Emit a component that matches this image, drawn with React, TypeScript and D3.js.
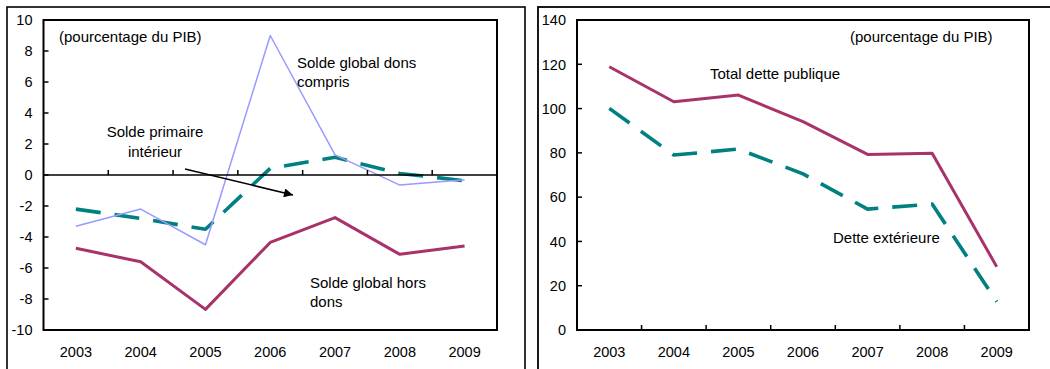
import React from "react";
import * as d3 from "d3";

const years = ["2003", "2004", "2005", "2006", "2007", "2008", "2009"];

// Left panel (pourcentage du PIB)
const soldeDonsCompris = [-3.3, -2.2, -4.5, 9.0, 1.3, -0.65, -0.3];
const soldePrimaireInterieur = [-2.2, -2.8, -3.5, 0.43, 1.14, 0.1, -0.37];
const soldeHorsDons = [-4.73, -5.6, -8.67, -4.35, -2.75, -5.12, -4.58];
const leftTicks = [-10, -8, -6, -4, -2, 0, 2, 4, 6, 8, 10];

// Right panel (pourcentage du PIB)
const totalDettePublique = [118.9, 103.1, 106.1, 94.1, 79.3, 79.8, 28.6];
const detteExterieure = [100.1, 79, 81.7, 70.5, 54.6, 56.9, 12.8];
const rightTicks = [0, 20, 40, 60, 80, 100, 120, 140];

const FONT = "'Liberation Sans', Arial, sans-serif";
const TEAL = "#008080";
const MAGENTA = "#A8336A";
const LAVENDER = "#9999FF";

type Series = { values: number[]; color: string; width: number; dash?: string };

function Panel(props: {
  left: number;
  right: number;
  domain: [number, number];
  ticks: number[];
  baseValue: number;
  series: Series[];
  children?: React.ReactNode;
}) {
  const top = 20;
  const bottom = 330;
  const x = d3.scaleBand<string>().domain(years).range([props.left, props.right]);
  const y = d3.scaleLinear().domain(props.domain).range([bottom, top]);
  const cx = (d: string) => (x(d) as number) + x.bandwidth() / 2;
  const line = d3
    .line<number>()
    .x((_, i) => cx(years[i]))
    .y((v) => y(v));
  const baseY = y(props.baseValue);
  const boundaries = years.slice(1).map((d) => x(d) as number);
  return (
    <g>
      {props.series.map((s, i) => (
        <path
          key={i}
          d={line(s.values) || ""}
          fill="none"
          stroke={s.color}
          strokeWidth={s.width}
          strokeDasharray={s.dash}
          strokeLinejoin="round"
        />
      ))}
      {/* zero/base line */}
      <line x1={props.left} x2={props.right} y1={baseY} y2={baseY} stroke="#000" strokeWidth={1.6} />
      {/* plot border */}
      <rect
        x={props.left}
        y={top}
        width={props.right - props.left}
        height={bottom - top}
        fill="none"
        stroke="#000"
        strokeWidth={2}
      />
      {/* y ticks */}
      {props.ticks.map((t) => (
        <g key={t}>
          <line x1={props.left} x2={props.left + 5} y1={y(t)} y2={y(t)} stroke="#000" strokeWidth={1.5} />
          <text
            x={props.left - 11}
            y={y(t)}
            dy="0.36em"
            textAnchor="end"
            fontSize={14.5}
            fontFamily={FONT}
            fill="#000"
          >
            {t}
          </text>
        </g>
      ))}
      {/* x ticks */}
      {boundaries.map((b, i) => (
        <line key={i} x1={b} x2={b} y1={baseY} y2={baseY - 5} stroke="#000" strokeWidth={1.5} />
      ))}
      {years.map((d) => (
        <text
          key={d}
          x={cx(d)}
          y={352}
          dy="0.36em"
          textAnchor="middle"
          fontSize={14.5}
          fontFamily={FONT}
          fill="#000"
        >
          {d}
        </text>
      ))}
      {props.children}
    </g>
  );
}

function Label(props: { x: number; y: number; anchor?: string; children: React.ReactNode }) {
  return (
    <text
      x={props.x}
      y={props.y}
      dy="0.36em"
      textAnchor={props.anchor || "start"}
      fontSize={15}
      fontFamily={FONT}
      fill="#000"
    >
      {props.children}
    </text>
  );
}

export default function App() {
  return (
    <svg
      width={1050}
      height={369}
      style={{ position: "absolute", left: 0, top: 0, background: "#fff" }}
    >
      <defs>
        <marker
          id="arrow"
          viewBox="0 0 10 10"
          refX={10}
          refY={5}
          markerWidth={11}
          markerHeight={9}
          markerUnits="userSpaceOnUse"
          orient="auto"
        >
          <path d="M0,0 L10,5 L0,10 z" fill="#000" />
        </marker>
      </defs>
      <rect x={0} y={0} width={1050} height={369} fill="#fff" />
      {/* outer frames */}
      <rect x={7} y={7} width={518} height={420} fill="none" stroke="#000" strokeWidth={1.6} />
      <rect x={538} y={7} width={560} height={420} fill="none" stroke="#000" strokeWidth={1.8} />

      <Panel
        left={43.5}
        right={497}
        domain={[-10, 10]}
        ticks={leftTicks}
        baseValue={0}
        series={[
          { values: soldeHorsDons, color: MAGENTA, width: 3 },
          { values: soldePrimaireInterieur, color: TEAL, width: 3.6, dash: "25,14" },
          { values: soldeDonsCompris, color: LAVENDER, width: 1.5 },
        ]}
      >
        <Label x={59} y={37}>(pourcentage du PIB)</Label>
        <Label x={297} y={63}>Solde global dons</Label>
        <Label x={297} y={82}>compris</Label>
        <Label x={155} y={132} anchor="middle">Solde primaire</Label>
        <Label x={155} y={152} anchor="middle">intérieur</Label>
        <Label x={310} y={283}>Solde global hors</Label>
        <Label x={310} y={302}>dons</Label>
        <line x1={185} y1={169} x2={293} y2={195} stroke="#000" strokeWidth={1.5} markerEnd="url(#arrow)" />
      </Panel>

      <Panel
        left={577}
        right={1029}
        domain={[0, 140]}
        ticks={rightTicks}
        baseValue={0}
        series={[
          { values: totalDettePublique, color: MAGENTA, width: 3 },
          { values: detteExterieure, color: TEAL, width: 3.6, dash: "25,14" },
        ]}
      >
        <Label x={850} y={37}>(pourcentage du PIB)</Label>
        <Label x={710} y={74}>Total dette publique</Label>
        <Label x={833} y={238}>Dette extérieure</Label>
      </Panel>
    </svg>
  );
}
